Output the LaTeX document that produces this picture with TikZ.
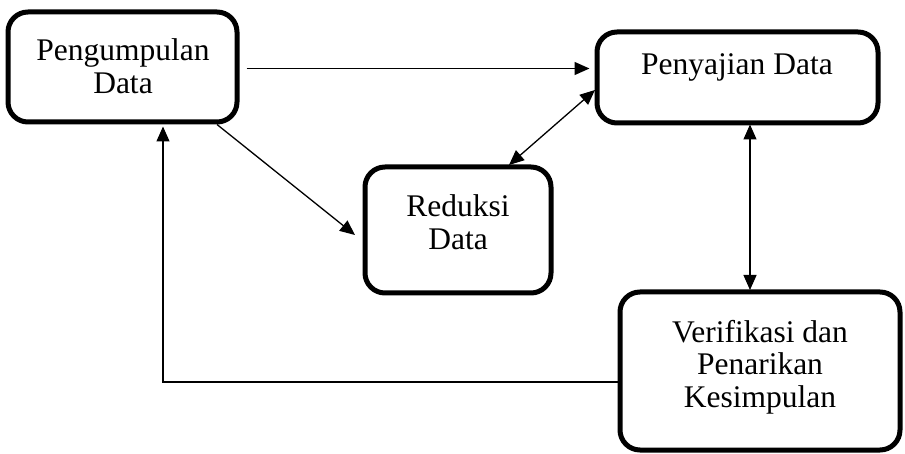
\documentclass[tikz,border=0pt]{standalone}
\usepackage{fontspec}
\setmainfont{Liberation Serif}
\usetikzlibrary{arrows.meta,calc}
\begin{document}
\begin{tikzpicture}[x=1pt,y=-1pt,
  box/.style={draw,line width=5pt,rounded corners=20pt,inner sep=0pt},
  txt/.style={align=center,font=\fontsize{31.5}{32.5}\selectfont,inner sep=0pt},
  arr/.style={line width=1.3pt,-{Triangle[length=15pt,width=13pt]}},
  darr/.style={line width=1.3pt,{Triangle[length=15pt,width=13pt]}-{Triangle[length=15pt,width=13pt]}}]
\useasboundingbox (0,0) rectangle (905,454);
\node[box,minimum width=229pt,minimum height=110pt] (b1) at (122.5,67) {};
\node[box,minimum width=281pt,minimum height=91pt] (b2) at (737.5,77.5) {};
\node[box,minimum width=186pt,minimum height=126pt] (b3) at (458,230) {};
\node[box,minimum width=280pt,minimum height=158pt] (b4) at (760,371) {};
\node[txt] (t1) at (123,66) {Pengumpulan\\Data};
\node[txt] (t2) at (737,67) {Penyajian Data};
\node[txt] (t3) at (458,222) {Reduksi\\Data};
\node[txt] (t4) at (760,367) {Verifikasi dan\\Penarikan\\Kesimpulan};
% arrows
\draw[arr,shorten >=5pt] ([shift={(7,1.5)}]b1.east) -- ([shift={(0,1.5)}]b1.east -| b2.west);
\draw[arr] ([shift={(94.5,0)}]b1.south) -- ([shift={(-7.5,5)}]b3.west);
\draw[darr] ([shift={(0.5,12.5)}]b2.west) -- ([shift={(51,0.5)}]b3.north);
\draw[darr] ([shift={(12.5,-1)}]b2.south) -- ([shift={(-10,0.5)}]b4.north);
\draw[arr,shorten >=2pt] ([shift={(0,11)}]b4.west) -| ([shift={(40.5,0)}]b1.south);
\end{tikzpicture}
\end{document}
